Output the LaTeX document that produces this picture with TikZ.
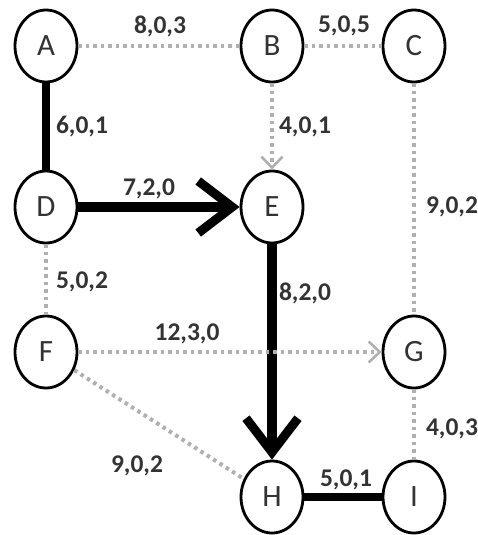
\documentclass[tikz,border=0pt]{standalone}
\usepackage{fontspec}
\setmainfont{Carlito}
\usetikzlibrary{shapes.geometric,arrows.meta}
\definecolor{inkgray}{HTML}{333333}
\definecolor{dotgray}{HTML}{B0B0B0}
\tikzset{
  vertex/.style={ellipse,draw=black,line width=2.8pt,minimum width=62pt,minimum height=72pt,
    inner sep=0pt,text=inkgray,font=\fontsize{31}{33}\selectfont},
  heavy/.style={draw=black,line width=8pt},
  faint/.style={draw=dotgray,line width=4pt,dash pattern=on 3.5pt off 4pt},
  bigtip/.style={-{Straight Barb[length=34pt,width=52pt,line width=9pt]}},
  smalltip/.style={-{Straight Barb[length=11pt,width=21pt,line width=2.6pt]}},
  wt/.style={text=inkgray,font=\fontsize{25.5}{27}\selectfont\bfseries,inner sep=0pt}
}
\begin{document}
\begin{tikzpicture}[x=1pt,y=-1pt]
\useasboundingbox (0,0) rectangle (477,535);
% vertices
\node[vertex] (A) at (46,46) {A};
\node[vertex] (B) at (272,46) {B};
\node[vertex] (C) at (414,46) {C};
\node[vertex] (D) at (46,207) {D};
\node[vertex] (E) at (272,207) {E};
\node[vertex] (F) at (46,352) {F};
\node[vertex] (G) at (414,352) {G};
\node[vertex] (H) at (272,497) {H};
\node[vertex] (I) at (414,497) {I};
% dotted (unused) edges
\draw[faint] (A) -- (B);
\draw[faint] (B) -- (C);
\draw[faint,smalltip] (B) -- (E);
\draw[faint] (C) -- (G);
\draw[faint] (D) -- (F);
\draw[faint] (F) -- (H);
\draw[faint] (G) -- (I);
% heavy (used) edges
\draw[heavy] (A) -- (D);
\draw[heavy,line width=10pt,bigtip] (D) -- (E);
\draw[heavy,line width=10pt,bigtip] (E) -- (H);
\draw[heavy] (H) -- (I);
% F to G runs across the E-H edge, on top of it
\draw[faint,smalltip] (F) -- (G);
% edge weights
\node[wt] (lAB) at (160,26) {8,0,3};
\node[wt] (lBC) at (344,26) {5,0,5};
\node[wt] (lAD) at (82,127) {6,0,1};
\node[wt] (lBE) at (305,127) {4,0,1};
\node[wt] (lDE) at (149,189) {7,2,0};
\node[wt] (lCG) at (452,207) {9,0,2};
\node[wt] (lDF) at (82,282) {5,0,2};
\node[wt] (lEH) at (305,293) {8,2,0};
\node[wt] (lFG) at (187,334) {12,3,0};
\node[wt] (lGI) at (452,429) {4,0,3};
\node[wt] (lFH) at (137,466) {9,0,2};
\node[wt] (lHI) at (346,480) {5,0,1};
\end{tikzpicture}
\end{document}
